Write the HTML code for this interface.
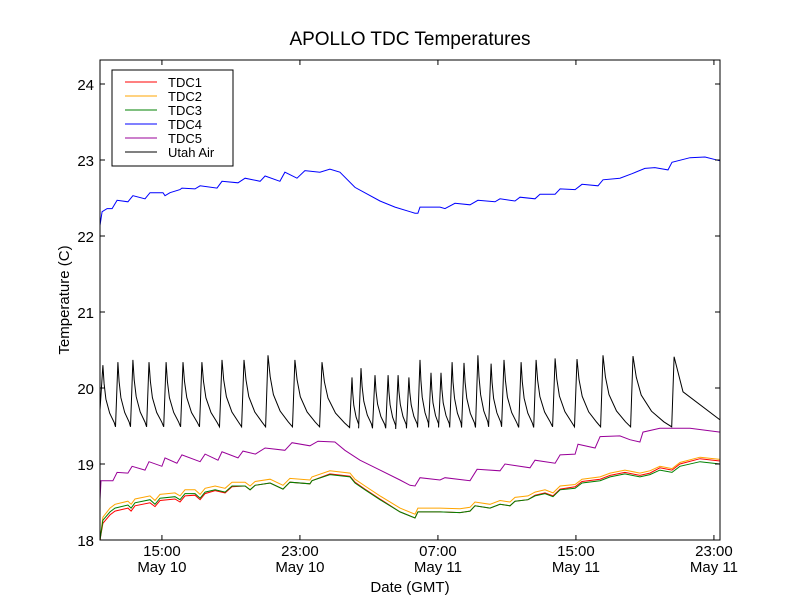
<!DOCTYPE html>
<html><head><meta charset="utf-8"><style>
body{margin:0;background:#fff;}
svg text{font-family:"Liberation Sans",sans-serif;}
</style></head><body>
<svg id="chart" width="800" height="600" xmlns="http://www.w3.org/2000/svg">
<rect width="800" height="600" fill="#fff"/>
<text x="410" y="45" font-size="19" text-anchor="middle">APOLLO TDC Temperatures</text>
<g id="plot"></g>
<rect x="100" y="60" width="620" height="480" fill="none" stroke="#000" stroke-width="1"/>
<g id="axes"></g>
<text x="410" y="592" font-size="15" text-anchor="middle">Date (GMT)</text>
<text transform="translate(69,300) rotate(-90)" font-size="15" text-anchor="middle">Temperature (C)</text>
<g>
<rect x="112" y="70" width="121" height="96" fill="#fff" stroke="#000" stroke-width="1"/>
<g id="legend-items"></g>
</g>
</svg>
<script>
const yTicks=[18,19,20,21,22,23,24];
const xTickHours=[3.59,11.59,19.59,27.59,35.59];
const xTickTimes=["15:00","23:00","07:00","15:00","23:00"];
const xTickDates=["May 10","May 10","May 11","May 11","May 11"];

const tdcT=[0,.17,.58,.87,1.62,1.80,2.03,2.90,3.19,3.48,4.35,4.64,4.93,5.51,5.80,6.09,6.67,7.25,7.65,8.41,8.70,8.99,9.86,10.61,11.01,12.17,12.29,13.33,14.49,14.78,15.36,16.23,17.39,18.26,18.43,19.71,20.87,21.45,21.74,22.61,23.19,23.77,24.06,24.81,25.22,25.80,26.26,26.67,27.54,27.94,28.99,29.57,30.43,31.30,31.88,32.46,33.16,33.62,34.78,35.94];
const tdc3V=[18.0,18.26,18.37,18.42,18.46,18.42,18.49,18.53,18.47,18.55,18.57,18.53,18.61,18.61,18.55,18.63,18.66,18.63,18.71,18.71,18.66,18.72,18.75,18.67,18.76,18.74,18.78,18.86,18.83,18.75,18.66,18.53,18.37,18.29,18.37,18.37,18.36,18.38,18.45,18.42,18.47,18.45,18.51,18.53,18.58,18.61,18.57,18.66,18.68,18.75,18.78,18.83,18.87,18.83,18.86,18.92,18.89,18.97,19.03,19.0];
const tdc1V=[18.0,18.22,18.33,18.38,18.42,18.38,18.45,18.49,18.44,18.52,18.54,18.50,18.58,18.59,18.53,18.61,18.65,18.62,18.70,18.71,18.66,18.72,18.75,18.67,18.76,18.74,18.78,18.87,18.84,18.76,18.67,18.54,18.37,18.29,18.37,18.37,18.36,18.38,18.45,18.42,18.47,18.45,18.51,18.53,18.59,18.62,18.58,18.67,18.70,18.77,18.80,18.85,18.89,18.85,18.88,18.95,18.92,19.0,19.07,19.04];
const tdc2V=[18.0,18.30,18.42,18.47,18.51,18.47,18.54,18.58,18.52,18.60,18.62,18.58,18.66,18.66,18.60,18.68,18.71,18.68,18.76,18.76,18.71,18.77,18.80,18.72,18.81,18.79,18.83,18.91,18.88,18.80,18.71,18.58,18.42,18.34,18.42,18.42,18.41,18.43,18.50,18.47,18.52,18.50,18.56,18.58,18.63,18.66,18.62,18.71,18.73,18.80,18.83,18.88,18.92,18.88,18.91,18.97,18.94,19.02,19.09,19.06];

const tdc4T=[0,.12,.41,.70,.99,1.62,1.91,2.61,2.90,3.65,3.77,4.06,4.64,4.75,5.51,5.80,6.78,7.07,8.0,8.41,9.28,9.57,10.43,10.72,11.42,11.88,12.75,13.33,13.91,14.78,16.23,17.10,17.97,18.26,18.43,18.55,19.71,20.0,20.58,21.45,21.91,22.90,23.19,24.06,24.35,25.22,25.51,26.38,26.67,27.54,27.94,28.87,29.16,30.14,30.84,31.59,32.17,32.93,33.16,34.20,35.07,35.94];
const tdc4V=[22.14,22.32,22.36,22.36,22.47,22.45,22.53,22.49,22.57,22.57,22.53,22.57,22.61,22.63,22.62,22.66,22.63,22.72,22.70,22.76,22.72,22.79,22.72,22.84,22.76,22.86,22.84,22.88,22.84,22.64,22.46,22.38,22.32,22.30,22.30,22.38,22.38,22.36,22.43,22.41,22.47,22.45,22.49,22.46,22.51,22.49,22.55,22.55,22.62,22.61,22.68,22.66,22.74,22.76,22.82,22.89,22.90,22.87,22.97,23.03,23.04,22.99];

const tdc5T=[0,.06,.75,.99,1.62,1.86,2.61,2.84,3.59,3.77,4.46,4.75,5.80,6.09,6.84,7.07,8.0,8.29,9.01,9.57,10.72,11.13,12.17,12.64,13.62,14.20,15.07,16.23,17.39,17.97,18.26,18.55,19.71,20.0,21.45,21.86,23.19,23.48,24.93,25.22,26.38,26.67,27.54,27.71,28.70,28.99,30.14,30.72,31.30,31.48,32.46,34.20,35.94];
const tdc5V=[18.53,18.78,18.78,18.89,18.88,18.97,18.92,19.03,18.97,19.08,19.01,19.12,19.03,19.13,19.05,19.16,19.08,19.17,19.13,19.21,19.18,19.28,19.24,19.30,19.29,19.18,19.05,18.92,18.79,18.72,18.71,18.82,18.79,18.82,18.78,18.93,18.91,19.0,18.95,19.05,19.01,19.12,19.13,19.26,19.21,19.36,19.37,19.32,19.29,19.42,19.47,19.47,19.42];

const airPeakT=[.17,1.04,1.91,2.84,3.83,4.81,5.91,7.07,8.35,9.74,11.30,12.87,14.61,15.13,15.94,16.70,17.28,17.91,18.55,19.19,19.77,20.41,21.10,21.91,22.67,23.42,24.41,25.28,26.38,27.65,29.16,30.90,33.28];
const airPeakV=[20.30,20.34,20.37,20.34,20.34,20.34,20.34,20.37,20.37,20.43,20.37,20.34,20.14,20.26,20.17,20.17,20.17,20.14,20.37,20.20,20.20,20.34,20.33,20.43,20.32,20.37,20.34,20.37,20.39,20.38,20.43,20.42,20.41];
const airTroughV=[19.49,19.49,19.49,19.49,19.49,19.49,19.49,19.49,19.49,19.49,19.49,19.48,19.47,19.47,19.47,19.46,19.47,19.48,19.48,19.48,19.48,19.48,19.48,19.49,19.49,19.48,19.48,19.49,19.49,19.49,19.49,19.49];
const airStartV=19.71;
const airTailT=[33.80,35.94];
const airTailV=[19.95,19.58];

const NS="http://www.w3.org/2000/svg";
const X=t=>100+t*17.25;
const Y=v=>540-(v-18)*76;
const plot=document.getElementById('plot');
const axes=document.getElementById('axes');

function line(ts,vs,color,name){
  const p=document.createElementNS(NS,'polyline');
  p.setAttribute('points',ts.map((t,i)=>X(t).toFixed(1)+','+Y(vs[i]).toFixed(1)).join(' '));
  p.setAttribute('fill','none');p.setAttribute('stroke',color);p.setAttribute('stroke-width','1');
  
  
  plot.appendChild(p);
}
const aT=[0],aV=[airStartV];
for(let i=0;i<airPeakT.length;i++){
  aT.push(airPeakT[i]);aV.push(airPeakV[i]);
  if(i<airPeakT.length-1){
    const g=airPeakT[i+1]-airPeakT[i],p=airPeakV[i],tr=airTroughV[i];
    aT.push(airPeakT[i]+0.08*g);aV.push(tr+(p-tr)*0.7);
    aT.push(airPeakT[i]+0.2*g);aV.push(tr+(p-tr)*0.45);
    aT.push(airPeakT[i]+0.45*g);aV.push(tr+(p-tr)*0.22);
    aT.push(airPeakT[i]+0.75*g);aV.push(tr+(p-tr)*0.07);
    aT.push(airPeakT[i+1]-0.14);aV.push(tr);
  }
}
airTailT.forEach((t,i)=>{aT.push(t);aV.push(airTailV[i]);});

line(aT,aV,'#000','series-utah-air');
line(tdc4T,tdc4V,'#0000ff','series-tdc4');
line(tdc5T,tdc5V,'#990099','series-tdc5');
line(tdcT,tdc2V,'#ffa500','series-tdc2');
line(tdcT,tdc1V,'#ff0000','series-tdc1');
line(tdcT,tdc3V,'#008000','series-tdc3');

function el(tag,attrs,parent){const e=document.createElementNS(NS,tag);for(const k in attrs)e.setAttribute(k,attrs[k]);parent.appendChild(e);return e;}
yTicks.forEach(v=>{
  const y=Y(v);
  const t1=el('line',{x1:100,x2:105,y1:y,y2:y,stroke:'#000'},axes);
  
  
  const t2=el('line',{x1:715,x2:720,y1:y,y2:y,stroke:'#000'},axes);
  
  
  const tx=el('text',{x:94,y:y+6,'font-size':15,'text-anchor':'end'},axes);
  tx.textContent=v;
  
  
});
xTickHours.forEach((h,i)=>{
  const x=X(h);
  const t1=el('line',{x1:x,x2:x,y1:535,y2:540,stroke:'#000'},axes);
  
  
  const t2=el('line',{x1:x,x2:x,y1:60,y2:65,stroke:'#000'},axes);
  
  
  const a=el('text',{x:x,y:556,'font-size':15,'text-anchor':'middle'},axes);
  a.textContent=xTickTimes[i];
  
  
  const b=el('text',{x:x,y:572,'font-size':15,'text-anchor':'middle'},axes);
  b.textContent=xTickDates[i];
  
  
});
const legNames=["TDC1","TDC2","TDC3","TDC4","TDC5","Utah Air"];
const legColors=['#ff0000','#ffa500','#008000','#0000ff','#990099','#000'];
const lg=document.getElementById('legend-items');
legNames.forEach((n,i)=>{
  const y=82+i*14;
  const g=el('g',{},lg);
  
  
  el('line',{x1:125,x2:157,y1:y,y2:y,stroke:legColors[i]},g);
  const t=el('text',{x:168,y:y+5,'font-size':13},g);
  t.textContent=n;
});
</script>
</body></html>
